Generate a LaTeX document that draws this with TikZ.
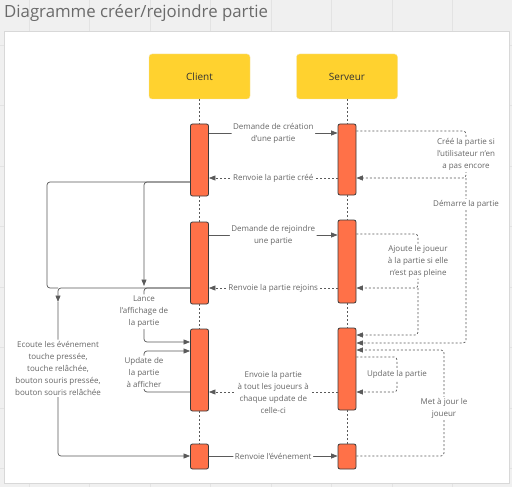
\documentclass[tikz,border=0pt]{standalone}
\usepackage{fontspec}
\setmainfont{Open Sans}
\usetikzlibrary{arrows.meta}
\definecolor{bggrey}{HTML}{F0F0F0}
\definecolor{gridgrey}{HTML}{E3E3E3}
\definecolor{panelborder}{HTML}{D8D8D8}
\definecolor{hdryellow}{HTML}{FFD22F}
\definecolor{actorange}{HTML}{FF7148}
\definecolor{actborder}{HTML}{3A3A3A}
\definecolor{txtgrey}{HTML}{666666}
\definecolor{titlegrey}{HTML}{6A6A6A}
\definecolor{linegrey}{HTML}{5A5A5A}
\tikzset{
  hdr/.style={fill=hdryellow, draw=hdryellow!90!black!40, rounded corners=3pt, minimum width=101pt, minimum height=45pt, font=\fontsize{10}{12}\selectfont, text=black!80},
  act/.style={fill=actorange, draw=actborder, line width=0.8pt, rounded corners=2pt, minimum width=18pt, inner sep=0pt},
  lifeline/.style={draw=linegrey, line width=0.6pt, dash pattern=on 2pt off 2pt},
  msg/.style={draw=linegrey, line width=0.7pt, rounded corners=3pt, -{Triangle[length=6.5pt,width=5pt]}},
  dmsg/.style={msg, dash pattern=on 2pt off 2pt},
  lbl/.style={fill=white, text=txtgrey, inner sep=1.5pt, align=center, font=\fontsize{8}{12}\selectfont},
}
\begin{document}
\begin{tikzpicture}[x=1pt,y=-1pt]
\useasboundingbox (0,0) rectangle (512,487);
% background and grid
\fill[bggrey] (0,0) rectangle (512,487);
\foreach \gx in {29,89.5,150,210.5,271,331.5,392,452.5}
  \draw[gridgrey, line width=0.6pt] (\gx,0) -- (\gx,487);
\foreach \gy in {45,105.5,166,226.5,287,347.5,408,468.5}
  \draw[gridgrey, line width=0.6pt] (0,\gy) -- (512,\gy);
\fill[white, draw=panelborder, line width=0.8pt] (4,31) rectangle (509,483);
\node[anchor=base west, inner sep=0pt, text=titlegrey, font=\fontsize{16.8}{18}\selectfont] (title) at (4,18) {Diagramme créer/rejoindre partie};

% headers
\node[hdr] (client) at (199.5,76.5) {Client};
\node[hdr] (serveur) at (347,76.5) {Serveur};

% activation boxes
\node[act, minimum height=72pt] (c1) at (199.5,160) {};
\node[act, minimum height=82pt] (c2) at (199.5,263) {};
\node[act, minimum height=82pt] (c3) at (199.5,370) {};
\node[act, minimum height=25pt] (c4) at (199.5,456.5) {};
\node[act, minimum height=71pt] (s1) at (347,159.5) {};
\node[act, minimum height=83pt] (s2) at (347,261.5) {};
\node[act, minimum height=82pt] (s3) at (347,369) {};
\node[act, minimum height=25pt] (s4) at (347,456.5) {};

% lifelines
\draw[lifeline] (client.south) -- (c1.north);
\draw[lifeline] (c1.south) -- (c2.north);
\draw[lifeline] (c2.south) -- (c3.north);
\draw[lifeline] (c3.south) -- (c4.north);
\draw[lifeline] (serveur.south) -- (s1.north);
\draw[lifeline] (s1.south) -- (s2.north);
\draw[lifeline] (s2.south) -- (s3.north);
\draw[lifeline] (s3.south) -- (s4.north);

% junction coordinates
\coordinate (j1) at (466,178);
\coordinate (j2) at (418,288);
\coordinate (j3) at (58,302);
\coordinate (j4) at (58,288);

% messages between lifelines
\draw[msg] (c1.east |- 0,133) -- node[lbl] {Demande de création\\d'une partie} (s1.west |- 0,133);
\draw[dmsg] (s1.west |- 0,178) -- node[lbl] {Renvoie la partie créé} (c1.east |- 0,178);
\draw[msg] (c2.east |- 0,235) -- node[lbl] {Demande de rejoindre\\une partie} (s2.west |- 0,235);
\draw[dmsg] (s2.west |- 0,288) -- node[lbl] {Renvoie la partie rejoins} (c2.east |- 0,288);
\draw[dmsg] (s3.west |- 0,392) -- node[lbl] {Envoie la partie\\à tout les joueurs à\\chaque update de\\celle-ci} (c3.east |- 0,392);
\draw[msg] (c4.east |- 0,456) -- node[lbl] {Renvoie l'événement} (s4.west |- 0,456);

% server side loops
\draw[dmsg] (s1.east |- 0,131) -- (466,131) -- node[lbl] {Créé la partie si\\l'utilisateur n'en\\a pas encore} (j1) -- (s1.east |- j1);
\draw[dmsg] (j1) -- node[lbl, pos=0.16] {Démarre la partie} (466,343) -- (s3.east |- 0,343);
\draw[dmsg] (s2.east |- 0,234) -- (418,234) -- node[lbl] {Ajoute le joueur\\à la partie si elle\\n'est pas pleine} (j2) -- (s2.east |- j2);
\draw[dmsg] (j2) -- (418,335) -- (s3.east |- 0,335);
\draw[dmsg] (s3.east |- 0,357) -- (397,357) -- node[lbl] {Update la partie} (397,392) -- (s3.east |- 0,392);
\draw[dmsg] (s4.east |- 0,456) -- (444,456) -- node[lbl, pos=0.45] {Met à jour le\\joueur} (444,350) -- (s3.east |- 0,350);

% client side connectors
\draw[msg] (c1.west |- 0,182) -| (144,286);
\draw[draw=linegrey, line width=0.7pt, rounded corners=3pt] (c1.west |- 0,182) -| (47,288) -- (j4);
\draw[msg] (c2.west |- 0,288) -| (j3);
\draw[msg] (j3) -- node[lbl, pos=0.43] {Ecoute les événement\\touche pressée,\\touche relâchée,\\bouton souris pressée,\\bouton souris relâchée} (58,456) -- (c4.west |- 0,456);
\draw[msg] (c2.west |- 0,288) -| node[lbl, pos=0.72] {Lance\\l'affichage de\\la partie} (144,342) -- (c3.west |- 0,342);
\draw[msg] (c3.west |- 0,392) -| node[lbl, pos=0.74] {Update de\\la partie\\à afficher} (144,351) -- (c3.west |- 0,351);
\end{tikzpicture}
\end{document}
